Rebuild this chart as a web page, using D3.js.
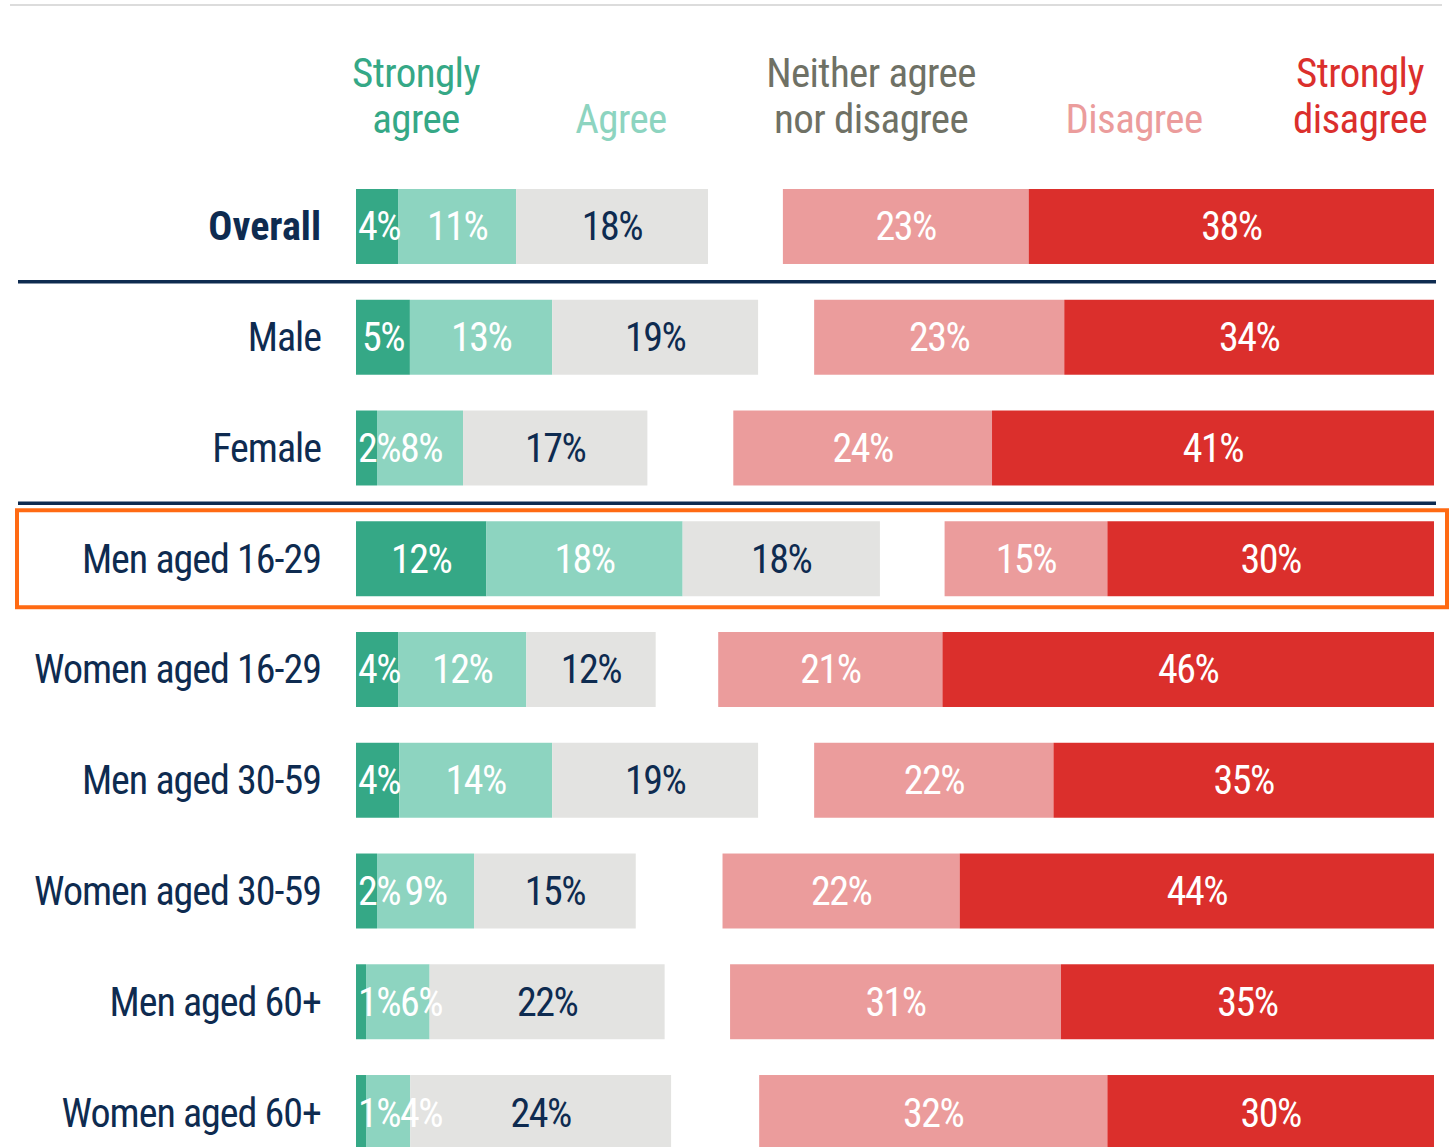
<!DOCTYPE html>
<html>
<head>
<meta charset="utf-8">
<script src="https://cdn.jsdelivr.net/npm/d3@7/dist/d3.min.js"></script>
<style>
  body { margin: 0; background: #fff; }
  text { font-family: "Liberation Sans Narrow", "Roboto Condensed", "DejaVu Sans Condensed", sans-serif; }
</style>
</head>
<body>
<svg id="chart" width="1453" height="1147"></svg>
<script>
const rows = ['Overall', 'Male', 'Female', 'Men aged 16-29', 'Women aged 16-29',
    'Men aged 30-59', 'Women aged 30-59', 'Men aged 60+', 'Women aged 60+'];

const categories = ['Strongly agree', 'Agree', 'Neither agree nor disagree', 'Disagree', 'Strongly disagree'];

// percentages per row
const stronglyAgree    = [3.9, 5.0, 1.95, 12.1, 3.9, 4.0, 1.95, 0.93, 0.93];
const agree            = [10.95, 13.2, 7.98, 18.2, 11.9, 14.2, 9.0, 5.9, 4.1];
const neither          = [17.8, 19.1, 17.1, 18.3, 12.0, 19.1, 15.0, 21.8, 24.2];
const disagree         = [22.8, 23.2, 24.0, 15.1, 20.8, 22.2, 22.0, 30.7, 32.3];
const stronglyDisagree = [37.6, 34.3, 41.0, 30.3, 45.6, 35.3, 44.0, 34.6, 30.3];

const colors = ['#35a886', '#8dd4c0', '#e3e3e1', '#eb9c9c', '#db2f2c'];
const headerColors = ['#35a886', '#8dd4c0', '#6f7165', '#eb9c9c', '#db2f2c'];
const labelColors = ['#ffffff', '#ffffff', '#0e2b50', '#ffffff', '#ffffff'];
const headerLines = [['Strongly', 'agree'], ['Agree'], ['Neither agree', 'nor disagree'], ['Disagree'], ['Strongly', 'disagree']];

const navy = '#0e2b50';

const svg = d3.select('#chart');

const x = d3.scaleLinear().domain([0, 100]).range([356, 1434]);
const y = d3.scaleBand().domain(rows).range([189, 1150]).paddingInner(0.323).paddingOuter(0);
const bw = y.bandwidth();

// top rule
svg.append('line')
    .attr('x1', 10).attr('x2', 1442)
    .attr('y1', 5).attr('y2', 5)
    .attr('stroke', '#dcdcdc').attr('stroke-width', 2);

// headers
const headerX = [416, 621, 871, 1134, 1360];
const hg = svg.append('g');
headerLines.forEach((lines, i) => {
    const t = hg.append('text')
        .attr('x', headerX[i])
        .attr('text-anchor', 'middle')
        .attr('fill', headerColors[i])
        .attr('font-size', 41)
        .attr('letter-spacing', -0.6);
    const first = lines.length === 2 ? 87 : 133;
    lines.forEach((l, j) => {
        t.append('tspan').attr('x', headerX[i]).attr('y', first + j * 46).text(l);
    });
});

// separators between groups
[['Overall', 'Male'], ['Female', 'Men aged 16-29']].forEach(pair => {
    const yy = (y(pair[0]) + bw + y(pair[1])) / 2;
    svg.append('line')
        .attr('x1', 18).attr('x2', 1436)
        .attr('y1', yy).attr('y2', yy)
        .attr('stroke', navy).attr('stroke-width', 3.5);
});

// highlight box
svg.append('rect')
    .attr('x', 17).attr('y', y('Men aged 16-29') - 11)
    .attr('width', 1430).attr('height', bw + 22)
    .attr('fill', 'none')
    .attr('stroke', '#ff6a13').attr('stroke-width', 4);

const data = rows.map((r, i) => {
    const vals = [stronglyAgree[i], agree[i], neither[i], disagree[i], stronglyDisagree[i]];
    const segs = [];
    let acc = 0;
    for (let k = 0; k < 3; k++) {
        segs.push({row: r, k: k, v: vals[k], x0: acc, x1: acc + vals[k]});
        acc += vals[k];
    }
    acc = 100;
    for (let k = 4; k >= 3; k--) {
        segs.push({row: r, k: k, v: vals[k], x0: acc - vals[k], x1: acc});
        acc -= vals[k];
    }
    segs.sort((a, b) => a.x0 - b.x0);
    return {row: r, segs: segs};
});

const rowG = svg.selectAll('.row')
    .data(data)
    .enter()
    .append('g')
    .attr('class', 'row')
    .attr('transform', d => 'translate(0,' + y(d.row) + ')');

rowG.selectAll('rect')
    .data(d => d.segs)
    .enter()
    .append('rect')
    .attr('x', d => x(d.x0))
    .attr('width', d => x(d.x1) - x(d.x0))
    .attr('y', 0)
    .attr('height', bw)
    .attr('fill', d => colors[d.k]);

// row labels
rowG.append('text')
    .attr('x', 321)
    .attr('y', bw / 2 + 14)
    .attr('text-anchor', 'end')
    .attr('fill', navy)
    .attr('font-size', 40)
    .attr('letter-spacing', d => d.row === 'Overall' ? 0 : -1)
    .attr('font-weight', d => d.row === 'Overall' ? 'bold' : 'normal')
    .text(d => d.row);

// value labels: centred, but pushed right so they don't overlap
rowG.each(function(d) {
    const g = d3.select(this);
    let prevEnd = -Infinity;
    d.segs.forEach(s => {
        const t = g.append('text')
            .attr('y', bw / 2 + 14)
            .attr('fill', labelColors[s.k])
            .attr('font-size', 40)
            .attr('letter-spacing', -1.5)
            .text(Math.round(s.v) + '%');
        const w = t.node().getComputedTextLength();
        const cx = (x(s.x0) + x(s.x1)) / 2;
        let start = Math.max(cx - w / 2, x(s.x0) + 2, prevEnd);
        t.attr('x', start);
        prevEnd = start + w;
    });
});
</script>
</body>
</html>
